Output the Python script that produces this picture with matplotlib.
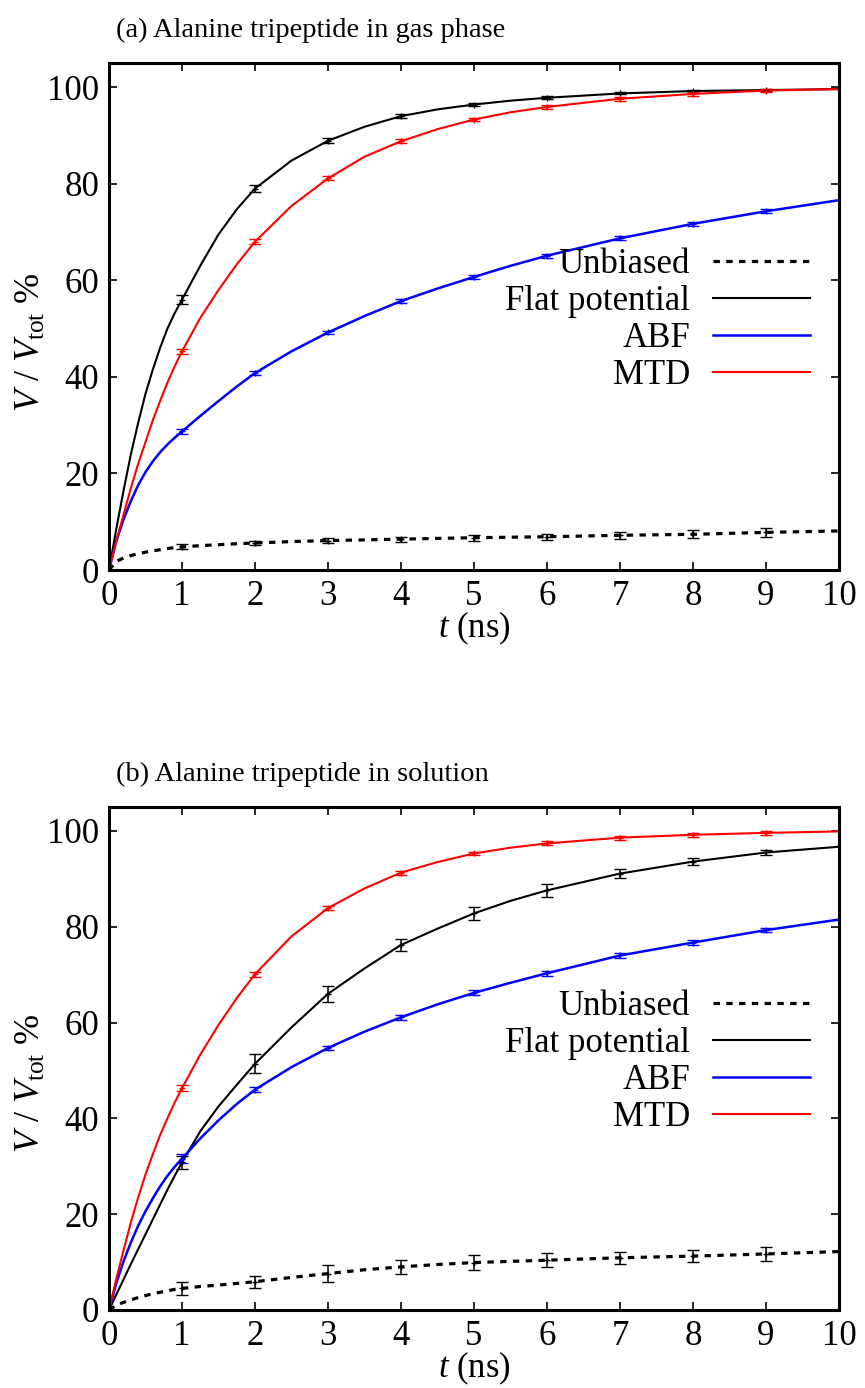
#! python

import numpy as np
import matplotlib
matplotlib.use("Agg")
import matplotlib.pyplot as plt

# time grid of the coverage curves (ns)
t_curve = [0, 0.1, 0.2, 0.3, 0.4, 0.5, 0.6, 0.7, 0.8, 0.9, 1, 1.25, 1.5, 1.75, 2,
           2.5, 3, 3.5, 4, 4.5, 5, 5.5, 6, 7, 8, 9, 10]
# times where the error bars are drawn
t_err = [1, 2, 3, 4, 5, 6, 7, 8, 9]

# (a) gas phase, explored volume in %
gas_unbiased = [0, 1.8, 2.5, 3.0, 3.4, 3.7, 4.0, 4.2, 4.45, 4.65, 4.8, 5.05, 5.25, 5.45, 5.6,
                5.9, 6.1, 6.25, 6.4, 6.55, 6.7, 6.8, 6.9, 7.2, 7.4, 7.8, 8.1]
gas_flat = [0, 8.5, 16.5, 24, 30.5, 36.5, 41.5, 46, 50, 53.2, 56, 63, 69.5, 74.7, 79,
            84.8, 88.9, 91.8, 94.0, 95.4, 96.4, 97.2, 97.8, 98.7, 99.2, 99.4, 99.6]
gas_abf = [0, 6, 10.5, 14.3, 17.6, 20.3, 22.5, 24.4, 26.0, 27.4, 28.7, 31.9, 35.0, 38.0, 40.8,
           45.3, 49.2, 52.6, 55.7, 58.3, 60.7, 63.0, 65.1, 68.7, 71.7, 74.3, 76.6]
gas_mtd = [0, 6, 11.5, 17, 22, 26.5, 31, 35, 38.8, 42.2, 45.3, 52.2, 58, 63.3, 68,
           75.4, 81.1, 85.6, 88.8, 91.3, 93.3, 94.8, 95.9, 97.6, 98.6, 99.3, 99.6]

gas_unbiased_err = [0.5, 0.5, 0.5, 0.5, 0.6, 0.6, 0.7, 0.8, 0.9]
gas_flat_err = [1.0, 0.75, 0.5, 0.4, 0.3, 0.3, 0.2, 0.2, 0.2]
gas_abf_err = [0.5, 0.4, 0.4, 0.4, 0.4, 0.4, 0.4, 0.4, 0.4]
gas_mtd_err = [0.5, 0.5, 0.4, 0.4, 0.4, 0.4, 0.4, 0.4, 0.4]

# (b) solution
sol_unbiased = [0, 1.0, 1.6, 2.1, 2.6, 3.0, 3.4, 3.7, 4.0, 4.3, 4.5, 4.9, 5.2, 5.55, 5.9,
                6.8, 7.6, 8.4, 9.0, 9.5, 9.9, 10.15, 10.4, 10.9, 11.25, 11.7, 12.2]
sol_flat = [0, 3.2, 6.4, 9.6, 12.7, 15.8, 18.9, 22, 25.1, 28, 30.8, 37.3, 42.5, 47, 51.4,
            59, 66, 71.3, 76.2, 79.6, 82.8, 85.4, 87.6, 91.1, 93.6, 95.5, 96.7]
sol_abf = [0, 5.6, 10.2, 14.1, 17.6, 20.6, 23.3, 25.8, 28.0, 29.9, 31.6, 35.8, 39.6, 43.0, 46,
           50.7, 54.7, 58.1, 61.1, 63.8, 66.2, 68.3, 70.3, 74, 76.7, 79.3, 81.5]
sol_mtd = [0, 6.5, 12.5, 18.3, 23.5, 28.3, 32.5, 36.5, 40, 43.3, 46.3, 53.3, 59.5, 65.1, 70.1,
           78, 83.9, 88, 91.3, 93.5, 95.3, 96.5, 97.4, 98.6, 99.2, 99.6, 99.9]

sol_unbiased_err = [1.3, 1.3, 1.7, 1.4, 1.5, 1.4, 1.2, 1.3, 1.4]
sol_flat_err = [1.3, 2.0, 1.7, 1.3, 1.4, 1.4, 0.9, 0.7, 0.6]
sol_abf_err = [1.0, 0.5, 0.5, 0.5, 0.5, 0.5, 0.5, 0.5, 0.5]
sol_mtd_err = [0.6, 0.5, 0.4, 0.4, 0.4, 0.4, 0.4, 0.4, 0.4]

labels = ["Unbiased", "Flat potential", "ABF", "MTD"]
colors = ["black", "black", "#0000ff", "#ff0000"]
styles = [(0, (2, 2)), "-", "-", "-"]
widths = [2.3, 1.5, 1.8, 1.5]

plt.rcParams["font.family"] = ["Liberation Serif", "DejaVu Serif"]
plt.rcParams["mathtext.fontset"] = "custom"
plt.rcParams["mathtext.rm"] = "Liberation Serif"
plt.rcParams["mathtext.it"] = "Liberation Serif:italic"


def draw_panel(ax, title, series, errors):
    t = np.array(t_curve)
    idx = [t_curve.index(v) for v in t_err]
    lines = []
    for y, err, lab, c, ls, lw in zip(series, errors, labels, colors, styles, widths):
        y = np.array(y)
        ln, = ax.plot(t, y, color=c, ls=ls, lw=lw, label=lab)
        ax.errorbar(t_err, y[idx], yerr=err, fmt="+", color=c, ms=5, mew=1.0,
                    elinewidth=1.1, capsize=4, capthick=1.1)
        lines.append(ln)

    ax.set_xlim(0, 10)
    ax.set_ylim(0, 105)
    ax.set_xticks(range(0, 11))
    ax.set_yticks(range(0, 101, 20))
    ax.tick_params(direction="in", top=True, right=True, length=6, width=1.2,
                   labelsize=25, pad=7)
    for sp in ax.spines.values():
        sp.set_linewidth(2.2)
    ax.set_xlabel(r"$t$ (ns)", fontsize=25, labelpad=-2)
    ax.set_ylabel(r"$V$ / $V_{\mathrm{tot}}$ %", fontsize=26)
    ax.yaxis.set_label_coords(-0.083, 0.45)
    ax.text(0.01, 1.065, title, transform=ax.transAxes, fontsize=20.5, va="center", ha="left")

    ax.legend(handles=lines, loc="center right", bbox_to_anchor=(0.96, 0.493),
              frameon=False, markerfirst=False, fontsize=25, handlelength=2.8,
              handletextpad=0.65, labelspacing=0.12, borderpad=0, borderaxespad=0)


def main():
    fig = plt.figure(figsize=(8.65, 13.88), dpi=100)
    ax_a = fig.add_axes([0.126, 0.5893, 0.844, 0.3653])
    ax_b = fig.add_axes([0.126, 0.0562, 0.844, 0.3624])

    draw_panel(ax_a, "(a) Alanine tripeptide in gas phase",
               [gas_unbiased, gas_flat, gas_abf, gas_mtd],
               [gas_unbiased_err, gas_flat_err, gas_abf_err, gas_mtd_err])
    draw_panel(ax_b, "(b) Alanine tripeptide in solution",
               [sol_unbiased, sol_flat, sol_abf, sol_mtd],
               [sol_unbiased_err, sol_flat_err, sol_abf_err, sol_mtd_err])

    fig.savefig("out.png", dpi=100)


if __name__ == "__main__":
    main()
